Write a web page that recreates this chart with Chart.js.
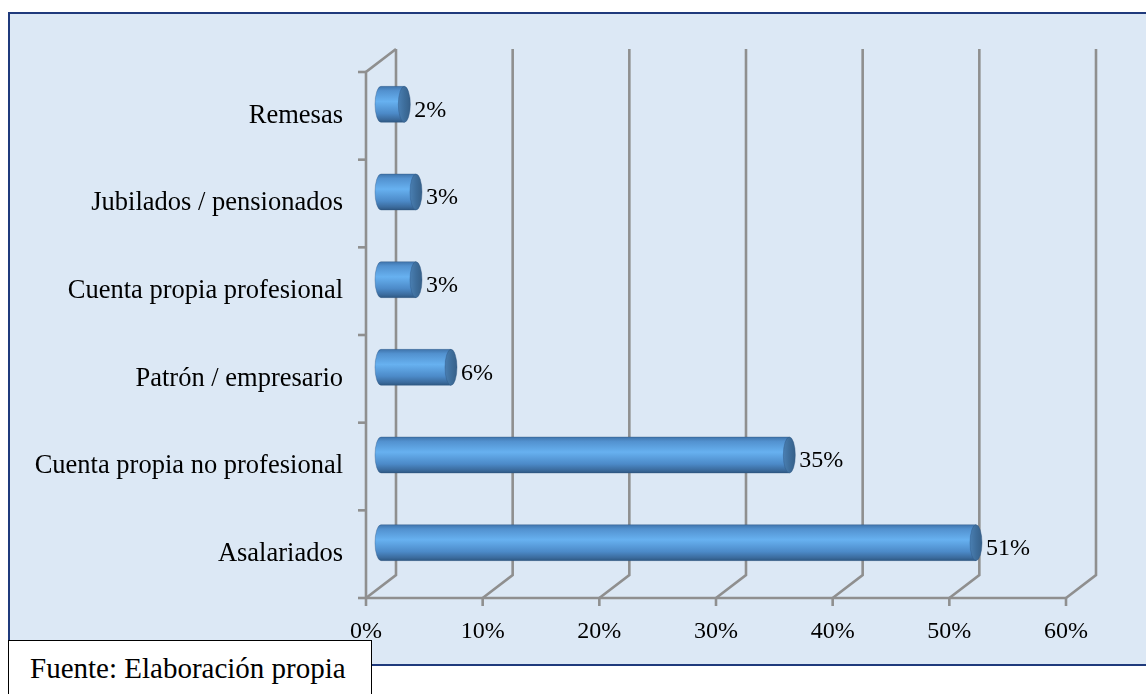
<!DOCTYPE html>
<html>
<head>
<meta charset="utf-8">
<script src="https://cdn.jsdelivr.net/npm/chart.js@4.4.0/dist/chart.umd.min.js"></script>
<style>
  html, body { margin: 0; padding: 0; background: #ffffff; }
  #wrap { position: relative; width: 1146px; height: 694px; overflow: hidden; }
  #c { position: absolute; left: 0; top: 0; }
  #fuente {
    position: absolute; left: 8px; top: 640px; width: 364px; height: 70px;
    box-sizing: border-box; background: #ffffff; border: 1px solid #000000;
    font-family: "Liberation Serif", "Times New Roman", serif; font-size: 29px;
    line-height: 29px; padding: 13px 0 0 21px; color: #000000; white-space: nowrap;
  }
</style>
</head>
<body>
<div id="wrap">
  <canvas id="c" width="1146" height="694"></canvas>
  <div id="fuente">Fuente: Elaboración propia</div>
</div>
<script>
// Categories (top to bottom) and their shares in percent
const categories = [
  'Remesas',
  'Jubilados / pensionados',
  'Cuenta propia profesional',
  'Patrón / empresario',
  'Cuenta propia no profesional',
  'Asalariados'
];
const shares = [2, 3, 3, 6, 35, 51];
const xTickValues = [0, 10, 20, 30, 40, 50, 60];

const SERIF = '"Liberation Serif", "Times New Roman", serif';
// depth of the pseudo-3D box: back wall offset relative to the front plane
const DEPTH_X = 30;
const DEPTH_Y = -23;

// Panel background and frame
const panelPlugin = {
  id: 'panel',
  beforeDraw(chart) {
    const ctx = chart.ctx;
    ctx.save();
    ctx.fillStyle = '#ffffff';
    ctx.fillRect(0, 0, chart.width, chart.height);
    ctx.fillStyle = '#dce8f5';
    ctx.fillRect(9, 13, chart.width + 10, 652);
    ctx.strokeStyle = '#1f3a7c';
    ctx.lineWidth = 2;
    ctx.strokeRect(9, 13, chart.width + 10, 652);
    ctx.restore();
  }
};

// Back wall gridlines, floor and left wall of the 3D frame
const framePlugin = {
  id: 'frame3d',
  beforeDatasetsDraw(chart) {
    const { ctx, chartArea: a, scales: { x, y } } = chart;
    ctx.save();
    ctx.strokeStyle = '#8f8f8f';
    ctx.lineWidth = 2.6;
    ctx.lineJoin = 'miter';
    x.ticks.forEach(t => {
      const px = x.getPixelForValue(t.value);
      ctx.beginPath();
      ctx.moveTo(px, a.bottom);
      ctx.lineTo(px + DEPTH_X, a.bottom + DEPTH_Y);
      ctx.lineTo(px + DEPTH_X, a.top + DEPTH_Y);
      ctx.stroke();
      ctx.beginPath();
      ctx.moveTo(px, a.bottom);
      ctx.lineTo(px, a.bottom + 8);
      ctx.stroke();
    });
    // floor front edge
    ctx.beginPath();
    ctx.moveTo(a.left, a.bottom);
    ctx.lineTo(a.right, a.bottom);
    ctx.stroke();
    // left wall front edge and top edge
    ctx.beginPath();
    ctx.moveTo(a.left, a.bottom);
    ctx.lineTo(a.left, a.top);
    ctx.lineTo(a.left + DEPTH_X, a.top + DEPTH_Y);
    ctx.stroke();
    // category boundary ticks on the left wall
    const n = categories.length;
    const half = (y.getPixelForValue(1) - y.getPixelForValue(0)) / 2;
    const bounds = [];
    for (let i = 0; i < n; i++) bounds.push(y.getPixelForValue(i) - half);
    bounds.push(y.getPixelForValue(n - 1) + half);
    bounds.forEach(py => {
      ctx.beginPath();
      ctx.moveTo(a.left - 8, py);
      ctx.lineTo(a.left, py);
      ctx.stroke();
    });
    ctx.restore();
  }
};

// Cylinder bars placed at mid-depth, with value labels
const cylinderPlugin = {
  id: 'cylinders',
  afterDatasetsDraw(chart) {
    const ctx = chart.ctx;
    const meta = chart.getDatasetMeta(0);
    const values = chart.data.datasets[0].data;
    ctx.save();
    meta.data.forEach((bar, i) => {
      const p = bar.getProps(['x', 'y', 'base', 'height'], true);
      const x0 = p.base + DEPTH_X / 2;
      const x1 = p.x + DEPTH_X / 2;
      const cy = p.y + DEPTH_Y / 2;
      const ry = p.height / 2;
      const rx = 6;

      const body = ctx.createLinearGradient(0, cy - ry, 0, cy + ry);
      body.addColorStop(0, '#3f74ab');
      body.addColorStop(0.12, '#5291cf');
      body.addColorStop(0.42, '#67b1f0');
      body.addColorStop(0.75, '#4c8ac8');
      body.addColorStop(0.92, '#3b6b9d');
      body.addColorStop(1, '#2e5882');
      ctx.beginPath();
      ctx.moveTo(x1, cy - ry);
      ctx.lineTo(x0, cy - ry);
      ctx.ellipse(x0, cy, rx, ry, 0, -Math.PI / 2, Math.PI / 2, true);
      ctx.lineTo(x1, cy + ry);
      ctx.closePath();
      ctx.fillStyle = body;
      ctx.fill();
      ctx.strokeStyle = 'rgba(45,85,130,0.45)';
      ctx.lineWidth = 0.8;
      ctx.stroke();

      const cap = ctx.createLinearGradient(x1 - rx, 0, x1 + rx, 0);
      cap.addColorStop(0, '#4a7fb2');
      cap.addColorStop(0.5, '#3e6e9c');
      cap.addColorStop(1, '#366089');
      ctx.beginPath();
      ctx.ellipse(x1, cy, rx, ry, 0, 0, Math.PI * 2);
      ctx.fillStyle = cap;
      ctx.fill();
      ctx.strokeStyle = 'rgba(45,85,130,0.5)';
      ctx.stroke();

      ctx.fillStyle = '#000000';
      ctx.font = '24px ' + SERIF;
      ctx.textAlign = 'left';
      ctx.textBaseline = 'middle';
      ctx.fillText(values[i] + '%', x1 + rx + 4, cy + 6);
    });
    ctx.restore();
  }
};

new Chart(document.getElementById('c'), {
  type: 'bar',
  data: {
    labels: categories,
    datasets: [{
      data: shares,
      backgroundColor: 'rgba(0,0,0,0)',
      borderWidth: 0,
      categoryPercentage: 1,
      barPercentage: 0.41
    }]
  },
  options: {
    responsive: false,
    animation: false,
    indexAxis: 'y',
    layout: { padding: { left: 0, right: 80, top: 72, bottom: 0 } },
    plugins: { legend: { display: false }, tooltip: { enabled: false } },
    scales: {
      x: {
        min: 0, max: 60,
        grid: { display: false, drawTicks: false },
        border: { display: false },
        afterBuildTicks(s) { s.ticks = xTickValues.map(v => ({ value: v })); },
        ticks: {
          autoSkip: false, maxRotation: 0,
          color: '#000000',
          font: { family: SERIF, size: 24 },
          padding: 19,
          callback: v => v + '%'
        },
        afterFit(s) { s.height = 96; }
      },
      y: {
        grid: { display: false, drawTicks: false },
        border: { display: false },
        ticks: {
          color: '#000000',
          font: { family: SERIF, size: 26.5 },
          padding: 23
        },
        afterFit(s) { s.width = 366; }
      }
    }
  },
  plugins: [panelPlugin, framePlugin, cylinderPlugin]
});
</script>
</body>
</html>
